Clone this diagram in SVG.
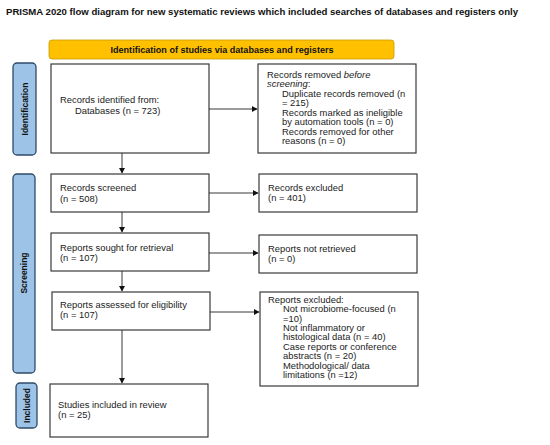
<svg xmlns="http://www.w3.org/2000/svg" width="550" height="445" viewBox="0 0 550 445">
<style>
.title{font-family:"Liberation Sans",Arial,sans-serif;font-weight:bold;font-size:9.4px;fill:#111}
.band{fill:#FFC000;stroke:#C99A00;stroke-width:0.8}
.bandt{font-family:"Liberation Sans",Arial,sans-serif;font-weight:bold;font-size:8.2px;fill:#111;text-anchor:middle}
.side{fill:#9DC3E6;stroke:#2E4A6B;stroke-width:1.3}
.sidet{font-family:"Liberation Sans",Arial,sans-serif;font-weight:bold;font-size:8.5px;fill:#111;text-anchor:middle}
.box{fill:#fff;stroke:#3a3a3a;stroke-width:1.2}
.t{font-family:"Liberation Sans",Arial,sans-serif;font-size:8.4px;fill:#222}
.c{stroke:#222;stroke-width:0.9;fill:none;marker-end:url(#ah)}
</style>
<defs>
<marker id="ah" markerWidth="6" markerHeight="6" refX="5" refY="3" orient="auto" markerUnits="userSpaceOnUse">
<path d="M0,0 L5.5,3 L0,6 Z" fill="#111"/>
</marker>
</defs>
<rect width="550" height="445" fill="#fff"/>
<text class="title" x="6" y="15" textLength="512" lengthAdjust="spacingAndGlyphs">PRISMA 2020 flow diagram for new systematic reviews which included searches of databases and registers only</text>

<g id="banner">
<rect class="band" x="49" y="40" width="345" height="19" rx="3"/>
<text class="bandt" x="222" y="52.5" textLength="223" lengthAdjust="spacingAndGlyphs">Identification of studies via databases and registers</text>
</g>

<g id="label-identification">
<rect class="side" x="13" y="63" width="23" height="92" rx="4"/>
<text class="sidet" transform="translate(27.5,109) rotate(-90)">Identification</text>
</g>
<g id="label-screening">
<rect class="side" x="13" y="174" width="22" height="199" rx="4"/>
<text class="sidet" transform="translate(27,273) rotate(-90)">Screening</text>
</g>
<g id="label-included">
<rect class="side" x="16" y="383" width="21" height="45" rx="4"/>
<text class="sidet" transform="translate(29.5,405.5) rotate(-90)">Included</text>
</g>

<g id="records-identified">
<rect class="box" x="51" y="64" width="158" height="89"/>
<g transform="matrix(1.12,0,0,1,-7.2,0)">
<text class="t" x="60" y="103">Records identified from:</text>
<text class="t" x="73.4" y="114">Databases (n = 723)</text>
</g>
</g>

<g id="records-removed">
<rect class="box" x="258" y="64" width="158" height="89"/>
<g transform="matrix(1.12,0,0,1,-32.04,0)">
<text class="t" x="267" y="78">Records removed <tspan font-style="italic">before</tspan></text>
<text class="t" x="267" y="87.4" font-style="italic">screening<tspan font-style="normal">:</tspan></text>
<text class="t" x="280.4" y="96.9">Duplicate records removed (n</text>
<text class="t" x="280.4" y="106.3">= 215)</text>
<text class="t" x="280.4" y="115.7">Records marked as ineligible</text>
<text class="t" x="280.4" y="125.1">by automation tools (n = 0)</text>
<text class="t" x="280.4" y="134.6">Records removed for other</text>
<text class="t" x="280.4" y="144">reasons (n = 0)</text>
</g>
</g>

<g id="records-screened">
<rect class="box" x="51" y="174" width="158" height="38"/>
<g transform="matrix(1.12,0,0,1,-7.2,0)">
<text class="t" x="60" y="191">Records screened</text>
<text class="t" x="60" y="202">(n = 508)</text>
</g>
</g>

<g id="records-excluded">
<rect class="box" x="259" y="174" width="158" height="38"/>
<g transform="matrix(1.12,0,0,1,-32.16,0)">
<text class="t" x="268" y="191">Records excluded</text>
<text class="t" x="268" y="201.5">(n = 401)</text>
</g>
</g>

<g id="reports-sought">
<rect class="box" x="51" y="233" width="158" height="38"/>
<g transform="matrix(1.12,0,0,1,-7.2,0)">
<text class="t" x="60" y="251">Reports sought for retrieval</text>
<text class="t" x="60" y="261.5">(n = 107)</text>
</g>
</g>

<g id="reports-not-retrieved">
<rect class="box" x="259" y="235" width="158" height="38"/>
<g transform="matrix(1.12,0,0,1,-32.16,0)">
<text class="t" x="268" y="252">Reports not retrieved</text>
<text class="t" x="268" y="262.5">(n = 0)</text>
</g>
</g>

<g id="reports-assessed">
<rect class="box" x="52" y="292" width="158" height="38"/>
<g transform="matrix(1.12,0,0,1,-7.2,0)">
<text class="t" x="60" y="308">Reports assessed for eligibility</text>
<text class="t" x="60" y="318.5">(n = 107)</text>
</g>
</g>

<g id="reports-excluded">
<rect class="box" x="260" y="292" width="158" height="94"/>
<g transform="matrix(1.12,0,0,1,-32.16,0)">
<text class="t" x="268" y="303">Reports excluded:</text>
<text class="t" x="281.4" y="312.4">Not microbiome-focused (n</text>
<text class="t" x="281.4" y="321.8">=10)</text>
<text class="t" x="281.4" y="331.1">Not inflammatory or</text>
<text class="t" x="281.4" y="340.5">histological data (n = 40)</text>
<text class="t" x="281.4" y="349.9">Case reports or conference</text>
<text class="t" x="281.4" y="359.3">abstracts (n = 20)</text>
<text class="t" x="281.4" y="368.6">Methodological/ data</text>
<text class="t" x="281.4" y="378">limitations (n =12)</text>
</g>
</g>

<g id="studies-included">
<rect class="box" x="50" y="384" width="158" height="53"/>
<g transform="matrix(1.12,0,0,1,-6.96,0)">
<text class="t" x="58" y="408">Studies included in review</text>
<text class="t" x="58" y="418.5">(n = 25)</text>
</g>
</g>

<g id="connectors">
<line class="c" x1="209" y1="109" x2="257" y2="109"/>
<line class="c" x1="122" y1="153" x2="122" y2="173"/>
<line class="c" x1="209" y1="193" x2="258" y2="193"/>
<line class="c" x1="122" y1="212" x2="122" y2="232"/>
<line class="c" x1="209" y1="253" x2="258" y2="253"/>
<line class="c" x1="122" y1="271" x2="122" y2="291"/>
<line class="c" x1="210" y1="312" x2="259" y2="312"/>
<line class="c" x1="122" y1="330" x2="122" y2="383"/>
</g>
</svg>
